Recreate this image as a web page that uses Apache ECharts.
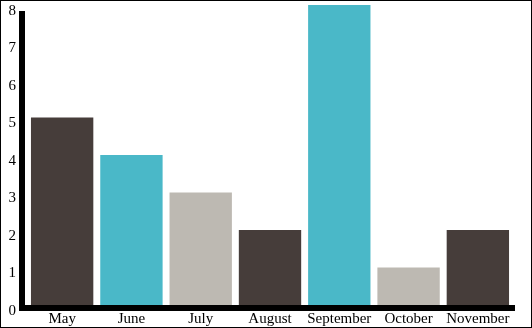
<!DOCTYPE html>
<html><head><meta charset="utf-8">
<script src="https://cdn.jsdelivr.net/npm/echarts@6/dist/echarts.min.js"></script>
<style>
html,body{margin:0;padding:0;background:#fff;}
#wrap{position:relative;width:532px;height:328px;}
#c{width:532px;height:328px;}
#frame{position:absolute;left:0;top:0;width:532px;height:328px;box-sizing:border-box;border:1px solid #000;pointer-events:none;}
</style></head>
<body><div id="wrap"><div id="c"></div><div id="frame"></div></div>
<script>
const categories = ["May","June","July","August","September","October","November"];
const values = [5, 4, 3, 2, 8, 1, 2];
const palette = ["#463d3a", "#4ab8c8", "#bdb9b2"];
const yTicks = [0,1,2,3,4,5,6,7,8];

const font = "Liberation Serif";
const chart = echarts.init(document.getElementById('c'), null, {renderer:'canvas'});
chart.setOption({
  animation:false,
  backgroundColor:'#fff',
  grid:[
    {left:27.5, right:19.5, top:5, bottom:23},
    {left:22, right:17, top:11, bottom:17}
  ],
  xAxis:[
    {type:'category', gridIndex:0, data:categories,
     axisLine:{show:false}, axisTick:{show:false},
     axisLabel:{color:'#000', fontFamily:font, fontSize:15, margin:7, interval:0}},
    {type:'value', gridIndex:1, min:0, max:1, offset:-3,
     axisLine:{show:true, onZero:false, lineStyle:{color:'#000', width:6, cap:'butt'}},
     axisTick:{show:false}, axisLabel:{show:false}, splitLine:{show:false}}
  ],
  yAxis:[
    {type:'value', gridIndex:0, min:0, max:8, show:false, splitLine:{show:false}},
    {type:'value', gridIndex:1, min:0, max:8, interval:1,
     axisLine:{show:true, onZero:false, lineStyle:{color:'#000', width:6, cap:'butt'}},
     axisTick:{show:false}, splitLine:{show:false},
     axisLabel:{color:'#000', fontFamily:font, fontSize:15, margin:6,
       formatter: v => yTicks.includes(v) ? String(v) : ''}}
  ],
  series:[{
    type:'bar', xAxisIndex:0, yAxisIndex:0, data:values,
    barCategoryGap:'10%',
    itemStyle:{color: p => palette[p.dataIndex % palette.length]}
  }]
});
</script></body></html>
